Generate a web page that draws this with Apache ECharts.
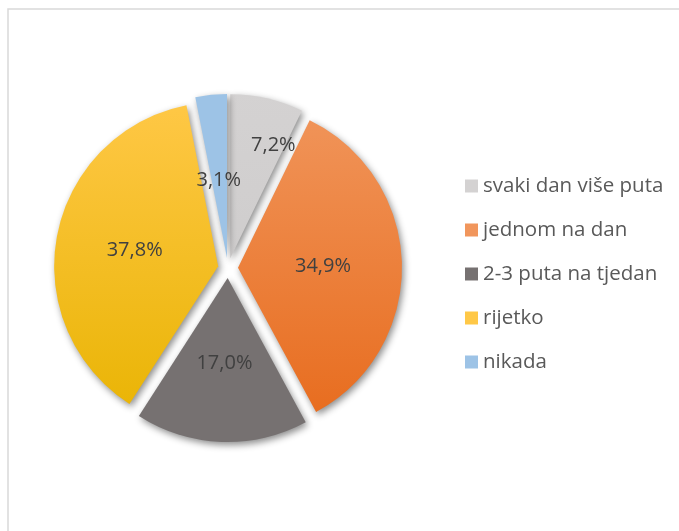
<!DOCTYPE html>
<html>
<head>
<meta charset="utf-8">
<script src="https://cdn.jsdelivr.net/npm/echarts@6/dist/echarts.min.js"></script>
<style>
  html, body { margin: 0; padding: 0; background: #fff; }
  #pieChart { width: 679px; height: 531px; }
</style>
</head>
<body>
<div id="pieChart"></div>
<script>
// kategorije i postoci
const categories = ['svaki dan više puta', 'jednom na dan', '2-3 puta na tjedan', 'rijetko', 'nikada']
const values = [7.2, 34.9, 17.0, 37.8, 3.1]

// boje kriški (gornja / donja boja gradijenta)
const topColors = ['#D4D2D2', '#F1965C', '#767171', '#FFC847', '#9DC3E6']
const bottomColors = ['#CAC8C8', '#E76A1B', '#767171', '#E8B300', '#9DC3E6']

const myChart = echarts.init(document.getElementById('pieChart'))

const data = categories.map((name, i) => ({
  name: name,
  value: values[i],
  selected: true,
  itemStyle: {
    color: {
      type: 'linear', x: 0, y: 98, x2: 0, y2: 438, global: true,
      colorStops: [
        { offset: 0, color: topColors[i] },
        { offset: 1, color: bottomColors[i] }
      ]
    }
  }
}))

const options = {
  backgroundColor: '#FFF',
  animation: false,
  textStyle: { fontFamily: 'Open Sans' },
  graphic: [
    {
      type: 'rect',
      shape: { x: 8, y: 9, width: 720, height: 600 },
      style: { fill: 'none', stroke: '#D9D9D9', lineWidth: 1.5 },
      silent: true
    }
  ],
  legend: {
    orient: 'vertical',
    left: 460,
    top: 170,
    itemWidth: 13,
    itemHeight: 13,
    itemGap: 22,
    icon: 'rect',
    selectedMode: false,
    textStyle: { fontSize: 20.5, color: '#595959', lineHeight: 22 },
    data: categories
  },
  series: [
    {
      type: 'pie',
      center: [228, 268],
      radius: 164,
      startAngle: 90,
      selectedMode: 'multiple',
      selectedOffset: 10,
      avoidLabelOverlap: false,
      itemStyle: {
        shadowBlur: 7,
        shadowColor: 'rgba(0,0,0,0.45)',
        shadowOffsetX: 2,
        shadowOffsetY: 3
      },
      label: {
        show: true,
        position: 'inside',
        fontSize: 20,
        color: '#404040',
        formatter: p => p.value.toFixed(1).replace('.', ',') + '%'
      },
      labelLine: { show: false },
      labelLayout: p => {
        if (p.dataIndex === 0) return { dx: 24, dy: -30 }
        if (p.dataIndex === 4) return { dy: 7 }
        return {}
      },
      emphasis: { disabled: true },
      data: data
    }
  ]
}

myChart.setOption(options)
</script>
</body>
</html>
